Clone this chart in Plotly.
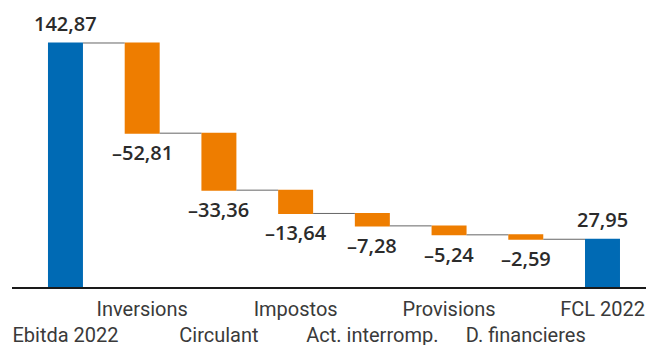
import plotly.graph_objects as go

# Cash-flow bridge from EBITDA to free cash flow (FCL), 2022
categories = ["Ebitda 2022", "Inversions", "Circulant", "Impostos",
              "Act. interromp.", "Provisions", "D. financieres", "FCL 2022"]
values = [142.87, -52.81, -33.36, -13.64, -7.28, -5.24, -2.59, 27.95]
measures = ["absolute", "relative", "relative", "relative",
            "relative", "relative", "relative", "total"]

BLUE = "#006AB4"
ORANGE = "#EE7D00"
TEXT = "#2b2b2b"


def fmt(v):
    s = f"{abs(v):.2f}".replace(".", ",")
    return ("–" + s) if v < 0 else s


# Alternate axis labels between an upper and a lower row
ticktext = [("<br>" + c) if i % 2 == 0 else c for i, c in enumerate(categories)]

fig = go.Figure()
fig.add_trace(go.Waterfall(
    x=list(range(len(categories))),
    y=values,
    measure=measures,
    width=0.456,
    increasing=dict(marker=dict(color=BLUE)),
    decreasing=dict(marker=dict(color=ORANGE)),
    totals=dict(marker=dict(color=BLUE)),
    connector=dict(line=dict(color="#666666", width=1)),
    textposition="none",
    hoverinfo="skip",
))

# Value labels: above totals, below each decrease
running = 0.0
annotations = []
for i, (v, m) in enumerate(zip(values, measures)):
    if m == "absolute":
        running = v
        annotations.append(dict(x=i, y=v, text=fmt(v), yanchor="bottom", yshift=4))
    elif m == "total":
        annotations.append(dict(x=i, y=running, text=fmt(v), yanchor="bottom", yshift=4))
    else:
        running += v
        annotations.append(dict(x=i, y=running, text=fmt(v), yanchor="top", yshift=-4))

for a in annotations:
    a.update(showarrow=False, xanchor="center",
             font=dict(family="Open Sans", size=20, color=TEXT, weight=600))

fig.update_layout(
    width=646, height=345,
    margin=dict(l=12, r=0, t=0, b=58),
    paper_bgcolor="white", plot_bgcolor="white",
    showlegend=False,
    annotations=annotations,
    xaxis=dict(
        range=[-0.697, 7.567],
        tickmode="array",
        tickvals=list(range(len(categories))),
        ticktext=ticktext,
        tickangle=0,
        automargin=False,
        ticklabelstandoff=3,
        showgrid=False, zeroline=False,
        showline=True, linecolor="#1a1a1a", linewidth=1.5,
        ticks="",
        tickfont=dict(family="Roboto", size=20, color="#3a3a3a"),
    ),
    yaxis=dict(range=[0, 168.04], visible=False, showgrid=False, zeroline=False,
               automargin=False),
)

fig.write_html("out.html")
